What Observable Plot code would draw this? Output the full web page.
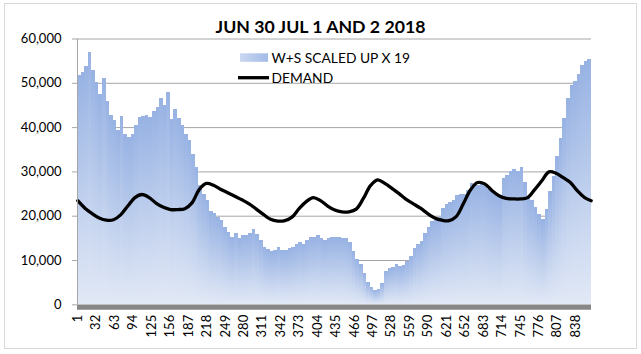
<!DOCTYPE html>
<html>
<head>
<meta charset="utf-8">
<script src="https://cdn.jsdelivr.net/npm/d3@7"></script>
<script src="https://cdn.jsdelivr.net/npm/@observablehq/plot@0.6"></script>
<style>
  html, body { margin: 0; padding: 0; background: #fff; }
  #chart { position: absolute; left: 0; top: 0; }
</style>
</head>
<body>
<div id="chart"></div>
<script>
// ---- data ----
const titleText = "JUN 30 JUL 1 AND 2 2018";
const wsLabel = "W+S SCALED UP X 19";
const demandLabel = "DEMAND";

// W+S scaled up x 19: one value per half hour (6 five-minute points each)
const wsValues = [
  51800, 52400, 53800, 57000, 53000, 50100, 47500, 51000, 46000, 42800, 41500, 39300,
  42500, 38500, 37700, 38400, 40500, 42300, 42500, 42700, 42300, 43700, 44500, 46500,
  45000, 48000, 41800, 44000, 42000, 40500, 38500, 37000, 34000, 31000, 27000, 25000,
  23500, 21000, 20500, 19700, 19000, 17500, 16300, 15300, 16200, 15000, 15600, 15600,
  16000, 17000, 15800, 14500, 13000, 12500, 12100, 12200, 12900, 12200, 12300, 12600,
  13000, 13500, 14000, 13500, 14500, 15200, 15300, 15600, 15000, 14600, 15000, 15200,
  15200, 15200, 15000, 14900, 14000, 12000, 10300, 9000, 7000, 5000, 4000, 3200,
  3500, 4700, 7500, 8200, 8500, 9000, 8600, 8900, 9800, 11000, 12600, 13600,
  14200, 16000, 17500, 18800, 19200, 19800, 21800, 22600, 23000, 23600, 24600, 25000,
  24900, 25800, 27400, 27000, 26900, 27600, 27000, 26000, 25300, 25000, 24600, 28500,
  29300, 30200, 30500, 30000, 31000, 27500, 24500, 23500, 22000, 20300, 19200, 21500,
  25500, 29000, 33500, 37500, 42000, 46500, 49500, 50500, 52000, 54000, 55000, 55400
];
const wsStep = 6;

// DEMAND: one value per hour (every 12 points), plus the final point
const demandValues = [
  23500, 21800, 20600, 19600, 19100, 19200, 20300, 22300, 24200, 24900, 24200, 22900,
  22000, 21500, 21500, 21700, 23000, 26000, 27400, 27000, 26100, 25300, 24500, 23700,
  22800, 21600, 20400, 19300, 18900, 19000, 19800, 21700, 23300, 24200, 23500, 22300,
  21400, 21000, 21000, 21600, 24000, 26900, 28200, 27400, 26300, 25100, 23800, 22800,
  21800, 20600, 19600, 19100, 19000, 19900, 22800, 25900, 27600, 27300, 25800, 24600,
  24000, 23900, 23900, 24200, 26000, 28000, 30000, 29700, 28700, 27600, 25700, 24200,
  23500
];
const demandStep = 12;
const nPoints = 864;

const xTicks = [1, 32, 63, 94, 125, 156, 187, 218, 249, 280, 311, 342, 373, 404, 435,
                466, 497, 528, 559, 590, 621, 652, 683, 714, 745, 776, 807, 838];
const yTicks = [0, 10000, 20000, 30000, 40000, 50000, 60000];

// ---- tables built from the arrays ----
const wsRows = wsValues.map((v, j) => ({x1: j * wsStep + 0.5, x2: (j + 1) * wsStep + 0.5, v}));
const demandRows = demandValues.map((v, k) => ({i: Math.min(1 + k * demandStep, nPoints), v}));

const chart = Plot.plot({
  width: 641,
  height: 354,
  marginLeft: 77,
  marginRight: 50,
  marginTop: 38.5,
  marginBottom: 49.7,
  style: {fontFamily: "Lato, 'DejaVu Sans', sans-serif", fontSize: "13px", color: "#000", background: "#fff", overflow: "visible"},
  x: {type: "linear", domain: [0.5, nPoints + 0.5], axis: null},
  y: {domain: [0, 60000], axis: null},
  marks: [
    Plot.gridY(yTicks, {stroke: "#a6a6a6", strokeOpacity: 1, strokeWidth: 1}),
    Plot.rect(wsRows, {x1: "x1", x2: "x2", y1: 0, y2: "v", fill: "url(#wsGrad)", shapeRendering: "crispEdges"}),
    Plot.line(demandRows, {x: "i", y: "v", stroke: "#000", strokeWidth: 3.3, curve: "catmull-rom"}),
    Plot.ruleX([0.5], {stroke: "#a6a6a6", strokeWidth: 1}),
    Plot.ruleY([0], {stroke: "#878787", strokeWidth: 4.8, dy: 2.5}),
    Plot.axisY(yTicks, {tickFormat: d3.format(","), tickSize: 5, tickPadding: 11, stroke: "#a6a6a6", fill: "#000", fontSize: 13, label: null}),
    Plot.axisX(xTicks, {tickFormat: d => String(d), tickRotate: -90, tickSize: 0, tickPadding: 10, fill: "#000", fontSize: 13, label: null})
  ]
});

const svg = d3.select(chart);
const defs = svg.insert("defs", ":first-child");
const g1 = defs.append("linearGradient").attr("id", "wsGrad").attr("x1", 0).attr("y1", 0).attr("x2", 0).attr("y2", 1);
g1.append("stop").attr("offset", "0%").attr("stop-color", "#97b2e3");
g1.append("stop").attr("offset", "100%").attr("stop-color", "#e2e9f6");
const g2 = defs.append("linearGradient").attr("id", "legGrad").attr("x1", 0).attr("y1", 0).attr("x2", 1).attr("y2", 0);
g2.append("stop").attr("offset", "0%").attr("stop-color", "#c9d7f1");
g2.append("stop").attr("offset", "100%").attr("stop-color", "#a3bce7");

// outer chart border
svg.append("rect").attr("x", 4.5).attr("y", 3.5).attr("width", 632).attr("height", 345)
  .attr("fill", "none").attr("stroke", "#d9d9d9");

// title
svg.append("text").attr("x", 320.5).attr("y", 33.3).attr("text-anchor", "middle")
  .attr("font-weight", "bold").attr("font-size", 17.7).attr("fill", "#000").text(titleText);

// legend
const leg = svg.append("g").attr("font-size", 13.8).attr("fill", "#000").attr("text-anchor", "start");
leg.append("rect").attr("x", 240).attr("y", 53.3).attr("width", 28).attr("height", 8.5).attr("fill", "url(#legGrad)");
leg.append("text").attr("x", 271.5).attr("y", 62.5).text(wsLabel);
leg.append("line").attr("x1", 238).attr("x2", 269).attr("y1", 77.7).attr("y2", 77.7)
  .attr("stroke", "#000").attr("stroke-width", 3.3);
leg.append("text").attr("x", 271.5).attr("y", 82.5).text(demandLabel);

document.getElementById("chart").appendChild(chart);
</script>
</body>
</html>
